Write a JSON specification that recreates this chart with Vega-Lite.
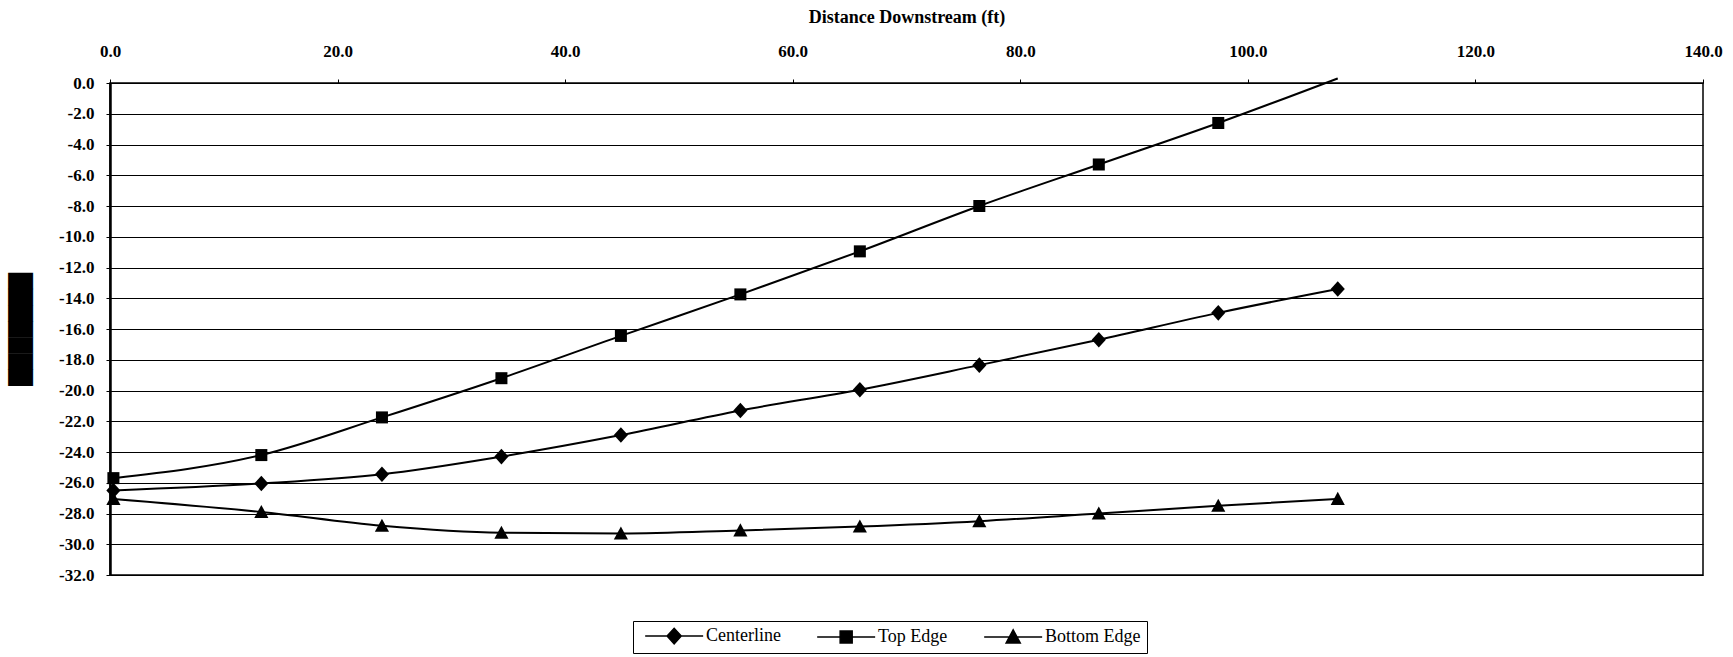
{
  "$schema": "https://vega.github.io/schema/vega-lite/v6.json",
  "width": 1593,
  "height": 492,
  "autosize": {"type": "none"},
  "padding": {"left": 110, "top": 83, "right": 30, "bottom": 82},
  "background": "white",
  "config": {
    "view": {"stroke": "black", "strokeWidth": 1.5},
    "font": "Liberation Serif"
  },
  "data": {
    "values": [
      {"series": "Centerline", "x": 0.3, "y": -26.5},
      {"series": "Centerline", "x": 13.3, "y": -26.05},
      {"series": "Centerline", "x": 23.9, "y": -25.45},
      {"series": "Centerline", "x": 34.4, "y": -24.3},
      {"series": "Centerline", "x": 44.9, "y": -22.9},
      {"series": "Centerline", "x": 55.4, "y": -21.3},
      {"series": "Centerline", "x": 65.9, "y": -19.95},
      {"series": "Centerline", "x": 76.4, "y": -18.35},
      {"series": "Centerline", "x": 86.9, "y": -16.7},
      {"series": "Centerline", "x": 97.4, "y": -14.95},
      {"series": "Centerline", "x": 107.9, "y": -13.4},
      {"series": "Top Edge", "x": 0.3, "y": -25.7},
      {"series": "Top Edge", "x": 13.3, "y": -24.2},
      {"series": "Top Edge", "x": 23.9, "y": -21.75},
      {"series": "Top Edge", "x": 34.4, "y": -19.2},
      {"series": "Top Edge", "x": 44.9, "y": -16.45},
      {"series": "Top Edge", "x": 55.4, "y": -13.75},
      {"series": "Top Edge", "x": 65.9, "y": -10.95},
      {"series": "Top Edge", "x": 76.4, "y": -8.0},
      {"series": "Top Edge", "x": 86.9, "y": -5.3},
      {"series": "Top Edge", "x": 97.4, "y": -2.6},
      {"series": "Top Edge", "x": 107.9, "y": 0.3},
      {"series": "Bottom Edge", "x": 0.3, "y": -27.05},
      {"series": "Bottom Edge", "x": 13.3, "y": -27.9},
      {"series": "Bottom Edge", "x": 23.9, "y": -28.8},
      {"series": "Bottom Edge", "x": 34.4, "y": -29.25},
      {"series": "Bottom Edge", "x": 44.9, "y": -29.3},
      {"series": "Bottom Edge", "x": 55.4, "y": -29.1},
      {"series": "Bottom Edge", "x": 65.9, "y": -28.85},
      {"series": "Bottom Edge", "x": 76.4, "y": -28.5},
      {"series": "Bottom Edge", "x": 86.9, "y": -28.0},
      {"series": "Bottom Edge", "x": 97.4, "y": -27.5},
      {"series": "Bottom Edge", "x": 107.9, "y": -27.05}
    ]
  },
  "encoding": {
    "x": {
      "field": "x",
      "type": "quantitative",
      "scale": {"domain": [0, 140], "nice": false, "zero": false},
      "axis": {
        "orient": "top",
        "title": "Distance Downstream (ft)",
        "titleFont": "Liberation Serif",
        "titleFontSize": 18,
        "titleFontWeight": "bold",
        "titleColor": "black",
        "titlePadding": 16,
        "values": [0, 20, 40, 60, 80, 100, 120, 140],
        "format": ".1f",
        "labelFont": "Liberation Serif",
        "labelFontSize": 17,
        "labelFontWeight": "bold",
        "labelColor": "black",
        "labelPadding": 19,
        "grid": false,
        "domain": false,
        "tickColor": "black",
        "tickSize": 4,
        "labelFlush": false
      }
    },
    "y": {
      "field": "y",
      "type": "quantitative",
      "scale": {"domain": [-32, 0], "nice": false, "zero": false},
      "axis": {
        "title": "███████",
        "titleFont": "DejaVu Sans",
        "titleFontSize": 21,
        "titleColor": "black",
        "titleAngle": -90,
        "titleX": -89,
        "titleY": 246,
        "titleAlign": "center",
        "titleBaseline": "middle",
        "values": [-32, -30, -28, -26, -24, -22, -20, -18, -16, -14, -12, -10, -8, -6, -4, -2, 0],
        "labelExpr": "(datum.value < 0 ? '-' : '') + format(abs(datum.value), '.1f')",
        "labelFont": "Liberation Serif",
        "labelFontSize": 17,
        "labelFontWeight": "bold",
        "labelColor": "black",
        "labelPadding": 12,
        "grid": true,
        "gridColor": "black",
        "gridWidth": 1,
        "gridOpacity": 1,
        "domainColor": "black",
        "domainWidth": 2.5,
        "tickColor": "black",
        "tickSize": 4,
        "labelFlush": false
      }
    }
  },
  "layer": [
    {
      "mark": {"type": "line", "interpolate": "monotone", "strokeWidth": 2, "color": "black", "clip": false},
      "encoding": {"detail": {"field": "series", "type": "nominal"}}
    },
    {
      "transform": [{"filter": "datum.y <= 0"}],
      "mark": {"type": "point", "filled": true, "size": 200, "opacity": 1, "color": "black"},
      "encoding": {
        "shape": {
          "field": "series",
          "type": "nominal",
          "scale": {
            "domain": ["Centerline", "Top Edge", "Bottom Edge"],
            "range": [
              "M-1,0L0,-1.1L1,0L0,1.1Z",
              "M-0.85,-0.85L0.85,-0.85L0.85,0.85L-0.85,0.85Z",
              "M-1,0.85L0,-1L1,0.85Z"
            ]
          },
          "legend": null
        }
      }
    },
    {
      "mark": {"type": "point", "filled": false, "fill": "black", "stroke": "black", "strokeWidth": 1.5, "size": 200, "opacity": 0},
      "encoding": {
        "shape": {
          "field": "series",
          "type": "nominal",
          "scale": {
            "domain": ["Centerline", "Top Edge", "Bottom Edge"],
            "range": [
              "M-0.4,0L7.8,0M2.7,0L3.7,-1.1L4.7,0L3.7,1.1Z",
              "M-0.4,0L7.8,0M2.85,-0.85L4.55,-0.85L4.55,0.85L2.85,0.85Z",
              "M-0.4,0L7.8,0M2.7,0.85L3.7,-1L4.7,0.85Z"
            ]
          },
          "legend": {
            "orient": "none",
            "legendX": 523,
            "legendY": 538,
            "direction": "horizontal",
            "title": null,
            "strokeColor": "black",
            "fillColor": "white",
            "padding": 6,
            "labelFont": "Liberation Serif",
            "labelFontSize": 18,
            "labelColor": "black",
            "symbolSize": 200,
            "symbolOpacity": 1,
            "symbolStrokeWidth": 1.5,
            "labelOffset": 49,
            "columnPadding": 30
          }
        }
      }
    }
  ],
  "resolve": {"scale": {"shape": "independent"}}
}
